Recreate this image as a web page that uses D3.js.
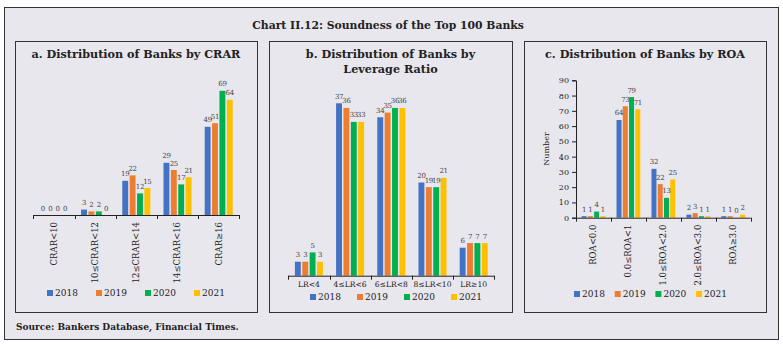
<!DOCTYPE html>
<html>
<head>
<meta charset="utf-8">
<script src="https://cdn.jsdelivr.net/npm/d3@7"></script>
<style>
  body { margin: 0; background: #fff; }
  svg text { font-family: "DejaVu Serif", serif; fill: #222; }
</style>
</head>
<body>
<div id="chart"></div>
<script>
// data for the three panels
var years = ['2018', '2019', '2020', '2021'];
var colors = ['#4472c4', '#ed7d31', '#00b050', '#ffc000'];

var crarCats = ['CRAR<10', '10≤CRAR<12', '12≤CRAR<14', '14≤CRAR<16', 'CRAR≥16'];
var crar2018 = [0, 3, 19, 29, 49];
var crar2019 = [0, 2, 22, 25, 51];
var crar2020 = [0, 2, 12, 17, 69];
var crar2021 = [0, 0, 15, 21, 64];

var lrCats = ['LR<4', '4≤LR<6', '6≤LR<8', '8≤LR<10', 'LR≥10'];
var lr2018 = [3, 37, 34, 20, 6];
var lr2019 = [3, 36, 35, 19, 7];
var lr2020 = [5, 33, 36, 19, 7];
var lr2021 = [3, 33, 36, 21, 7];

var roaCats = ['ROA<0.0', '0.0≤ROA<1', '1.0≤ROA<2.0', '2.0≤ROA<3.0', 'ROA≥3.0'];
var roa2018 = [1, 64, 32, 2, 1];
var roa2019 = [1, 73, 22, 3, 1];
var roa2020 = [4, 79, 13, 1, 0];
var roa2021 = [1, 71, 25, 1, 2];

var roaTicks = [0, 10, 20, 30, 40, 50, 60, 70, 80, 90];

var W = 783, H = 345;
var bg = '#e9e7ee';

var svg = d3.select('#chart').append('svg')
    .attr('width', W)
    .attr('height', H);

// outer frame
svg.append('rect')
    .attr('x', 4.5).attr('y', 7.5)
    .attr('width', 774).attr('height', 332)
    .attr('fill', bg)
    .attr('stroke', '#333').attr('stroke-width', 1);

svg.append('text')
    .attr('x', 388).attr('y', 25)
    .attr('dy', '0.35em')
    .attr('text-anchor', 'middle')
    .style('font-size', '10.8px')
    .style('font-weight', 'bold')
    .text('Chart II.12: Soundness of the Top 100 Banks');

svg.append('text')
    .attr('x', 16).attr('y', 327)
    .attr('dy', '0.35em')
    .style('font-size', '9px')
    .style('font-weight', 'bold')
    .text('Source: Bankers Database, Financial Times.');

function drawPanel(opt){
    var g = svg.append('g');

    g.append('rect')
        .attr('x', opt.box[0] + 0.5).attr('y', opt.box[1] + 0.5)
        .attr('width', opt.box[2]).attr('height', opt.box[3])
        .attr('fill', bg)
        .attr('stroke', '#333').attr('stroke-width', 1);

    var cx = opt.box[0] + opt.box[2] / 2;
    opt.title.forEach(function(line, i){
        g.append('text')
            .attr('x', cx).attr('y', 54.5 + i * 15)
            .attr('dy', '0.35em')
            .attr('text-anchor', 'middle')
            .style('font-size', '11.2px')
            .style('font-weight', 'bold')
            .text(line);
    });

    var x = d3.scaleBand().domain(opt.cats).range(opt.xRange);
    var pad = x.bandwidth() * 0.16;
    var xs = d3.scaleBand().domain(years)
        .range([pad, x.bandwidth() - pad])
        .paddingInner(0.2);
    var y = d3.scaleLinear().domain([0, opt.yMax]).range(opt.yRange);
    var base = opt.yRange[0];

    var rows = opt.cats.map(function(c, i){
        return {cat: c, vals: opt.series.map(function(s, k){ return {year: years[k], v: s[i], k: k}; })};
    });

    var grp = g.selectAll('.grp')
        .data(rows)
        .enter().append('g')
        .attr('class', 'grp')
        .attr('transform', function(d){ return 'translate(' + x(d.cat) + ',0)'; });

    grp.selectAll('rect')
        .data(function(d){ return d.vals; })
        .enter().append('rect')
        .attr('x', function(d){ return xs(d.year); })
        .attr('y', function(d){ return y(d.v); })
        .attr('width', xs.bandwidth())
        .attr('height', function(d){ return base - y(d.v); })
        .attr('fill', function(d){ return colors[d.k]; });

    grp.selectAll('.val')
        .data(function(d){ return d.vals; })
        .enter().append('text')
        .attr('class', 'val')
        .attr('x', function(d){ return xs(d.year) + xs.bandwidth() / 2; })
        .attr('y', function(d){ return y(d.v) - 4.5; })
        .attr('text-anchor', 'middle')
        .style('font-size', '7px')
        .style('letter-spacing', '-0.3px')
        .style('fill', '#444')
        .text(function(d){ return d.v; });

    // x axis with ticks on the category edges
    var edges = opt.cats.map(function(c){ return x(c); }).concat([opt.xRange[1]]);
    g.append('line')
        .attr('x1', opt.xRange[0]).attr('x2', opt.xRange[1])
        .attr('y1', base + 0.5).attr('y2', base + 0.5)
        .attr('stroke', '#222');
    g.selectAll('.tk')
        .data(edges)
        .enter().append('line')
        .attr('x1', function(d){ return Math.round(d) + 0.5; })
        .attr('x2', function(d){ return Math.round(d) + 0.5; })
        .attr('y1', base).attr('y2', base + 4)
        .attr('stroke', '#222');

    var lab = g.selectAll('.xl')
        .data(opt.cats)
        .enter().append('text')
        .attr('class', 'xl')
        .style('font-size', opt.rotate ? '8.5px' : '7.6px')
        .text(function(d){ return d; });
    if (opt.rotate) {
        lab.attr('text-anchor', 'end')
            .attr('dy', '0.35em')
            .attr('transform', function(d){
                return 'translate(' + (x(d) + x.bandwidth() / 2) + ',' + (base + 7) + ') rotate(-90)';
            });
    } else {
        lab.attr('text-anchor', 'middle')
            .attr('x', function(d){ return x(d) + x.bandwidth() / 2; })
            .attr('y', base + 6)
            .attr('dy', '0.71em');
    }

    if (opt.yAxis) {
        var ax = g.append('g')
            .attr('transform', 'translate(' + opt.xRange[0] + ',0)')
            .call(d3.axisLeft(y).tickValues(opt.yAxis).tickSize(4));
        ax.select('.domain').attr('stroke', '#222');
        ax.selectAll('.tick line').attr('stroke', '#222');
        ax.selectAll('.tick text')
            .style('font-family', '"DejaVu Serif", serif')
            .style('font-size', '8px')
            .attr('fill', '#222');
        g.append('text')
            .attr('transform', 'translate(' + opt.yLabelX + ',' + ((opt.yRange[0] + opt.yRange[1]) / 2) + ') rotate(-90)')
            .attr('text-anchor', 'middle')
            .attr('dy', '0.35em')
            .style('font-size', '8px')
            .text('Number');
    }

    var leg = g.selectAll('.leg')
        .data(years)
        .enter().append('g')
        .attr('class', 'leg')
        .attr('transform', function(d, i){ return 'translate(' + (opt.legend[0] + i * opt.legend[2]) + ',' + opt.legend[1] + ')'; });
    leg.append('rect')
        .attr('x', 0).attr('y', -3)
        .attr('width', 6).attr('height', 6)
        .attr('fill', function(d, i){ return colors[i]; });
    leg.append('text')
        .attr('x', 8).attr('y', 0)
        .attr('dy', '0.35em')
        .style('font-size', '9px')
        .text(function(d){ return d; });
}

drawPanel({
    box: [15, 41, 242, 271],
    title: ['a. Distribution of Banks by CRAR'],
    cats: crarCats,
    series: [crar2018, crar2019, crar2020, crar2021],
    xRange: [33.3, 239.3],
    yMax: 80, yRange: [215, 71],
    rotate: true,
    legend: [47, 293, 49]
});

drawPanel({
    box: [269, 41, 243, 271],
    title: ['b. Distribution of Banks by', 'Leverage Ratio'],
    cats: lrCats,
    series: [lr2018, lr2019, lr2020, lr2021],
    xRange: [288.3, 494.3],
    yMax: 40, yRange: [275.7, 89.3],
    rotate: false,
    legend: [310, 297, 47]
});

drawPanel({
    box: [524, 41, 242, 271],
    title: ['c. Distribution of Banks by ROA'],
    cats: roaCats,
    series: [roa2018, roa2019, roa2020, roa2021],
    xRange: [576, 750.7],
    yMax: 90, yRange: [217.7, 80.3],
    rotate: true,
    yAxis: roaTicks,
    yLabelX: 546,
    legend: [574, 294, 40.7]
});
</script>
</body>
</html>
